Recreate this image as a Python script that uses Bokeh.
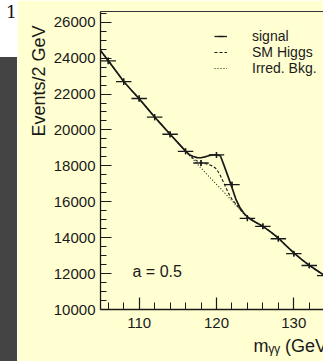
import numpy as np
from bokeh.plotting import figure
from bokeh.models import (Range1d, LinearAxis, SingleIntervalTicker, FixedTicker,
                          Legend, LegendItem, Label, Div, ColumnDataSource, Title)
from bokeh.layouts import row
from bokeh.embed import file_html
from bokeh.resources import INLINE

# ---- data ----
sig_mass = [106, 108, 110, 112, 114, 116, 118, 120, 122, 124, 126, 128, 130, 132, 134]
sig_events = [23850, 22690, 21750, 20710, 19760, 18810, 18160, 18610, 16950, 15080,
              14630, 13940, 13110, 12450, 11890]
sig_err = [190, 185, 180, 175, 170, 165, 165, 165, 160, 150, 150, 145, 140, 135, 135]
bin_half_width = 1.0  # 2 GeV bins

curve_mass = [105, 106, 107, 108, 109, 110, 111, 112, 113, 114, 115, 116,
              116.5, 117, 117.5, 118, 118.5, 119, 119.5, 120, 120.5, 121, 121.5,
              122, 122.5, 123, 123.5,
              124, 125, 126, 127, 128, 129, 130, 131, 132, 133, 134]
curve_irred = [24420, 23860, 23280, 22700, 22210, 21740, 21230, 20720, 20240, 19760, 19290, 18820,
               18580, 18350, 18110, 17880, 17650, 17420, 17200, 16970, 16750, 16520, 16290,
               16050, 15820, 15580, 15350,
               15120, 14870, 14630, 14320, 13980, 13560, 13150, 12790, 12460, 12170, 11880]
curve_higgs = [24420, 23860, 23280, 22700, 22210, 21740, 21230, 20720, 20240, 19760, 19290, 18820,
               18600, 18400, 18270, 18180, 18130, 18070, 17990, 17830, 17460, 17000, 16520,
               16150, 15880, 15600, 15360,
               15120, 14870, 14630, 14320, 13980, 13560, 13150, 12790, 12460, 12170, 11880]
curve_signal = [24420, 23860, 23280, 22700, 22210, 21740, 21230, 20720, 20240, 19760, 19290, 18820,
                18620, 18520, 18460, 18450, 18500, 18560, 18610, 18610, 18560, 18000, 17400,
                16800, 16150, 15700, 15390,
                15150, 14870, 14630, 14320, 13980, 13560, 13150, 12790, 12460, 12170, 11880]

x_tick_interval = 10
y_tick_interval = 2000

BG = "#FFFFD2"
INK = "#1a1a1a"
FONT = "Liberation Sans"

p = figure(width=306, height=361,
           x_range=Range1d(105, 133.84), y_range=Range1d(10000, 26596),
           x_axis_type=None, y_axis_type=None,
           output_backend="svg", toolbar_location=None)
p.background_fill_color = BG
p.border_fill_color = BG
p.outline_line_color = None
p.min_border_left = 83
p.min_border_right = 0
p.min_border_top = 11
p.min_border_bottom = 52

def style_axis(ax, tin, mtin):
    ax.axis_line_color = INK
    ax.axis_line_width = 1.3
    ax.major_tick_line_color = INK
    ax.minor_tick_line_color = INK
    ax.major_tick_line_width = 1.2
    ax.minor_tick_line_width = 1.0
    ax.major_tick_in = tin
    ax.major_tick_out = 0
    ax.minor_tick_in = mtin
    ax.minor_tick_out = 0
    ax.major_label_text_font = FONT
    ax.major_label_text_font_size = "15px"
    ax.major_label_text_color = INK

xaxis = LinearAxis(ticker=SingleIntervalTicker(interval=x_tick_interval, num_minor_ticks=5))
style_axis(xaxis, 12, 7)
xaxis.major_label_standoff = 8
p.add_layout(xaxis, "below")

yaxis = LinearAxis(ticker=SingleIntervalTicker(interval=y_tick_interval, num_minor_ticks=4))
style_axis(yaxis, 11, 6)
yaxis.major_label_standoff = 5
p.add_layout(yaxis, "left")

top = LinearAxis(ticker=FixedTicker(ticks=[]))
style_axis(top, 0, 0)
top.axis_line_width = 1.0
top.axis_line_color = "#333333"
top.major_label_text_font_size = "0px"
p.add_layout(top, "above")

m = np.array(sig_mass, dtype=float)
ev = np.array(sig_events, dtype=float)
er = np.array(sig_err, dtype=float)
src = ColumnDataSource(dict(x=m, y=ev, x0=m - bin_half_width, x1=m + bin_half_width,
                            y0=ev - er, y1=ev + er))

r_irred = p.line(curve_mass, curve_irred, line_color=INK, line_width=1.1, line_dash="1 2")
r_higgs = p.line(curve_mass, curve_higgs, line_color=INK, line_width=1.1, line_dash="3 2")
r_sig = p.line(curve_mass, curve_signal, line_color=INK, line_width=1.7)

r_h = p.segment(x0="x0", x1="x1", y0="y", y1="y", source=src, line_color=INK, line_width=1.3)
r_v = p.segment(x0="x", x1="x", y0="y0", y1="y1", source=src, line_color=INK, line_width=1.3)
r_tick = p.scatter(x="x", y="y", source=src, marker="dash", angle=np.pi / 2, size=6,
                   line_color=INK, line_width=1.3)

legend = Legend(items=[LegendItem(label="signal", renderers=[r_h, r_tick]),
                       LegendItem(label="SM Higgs", renderers=[r_higgs]),
                       LegendItem(label="Irred. Bkg.", renderers=[r_irred])],
                location=(114, 233), padding=0, margin=0, spacing=0,
                glyph_width=13, glyph_height=16, label_height=16, label_standoff=25,
                border_line_color=None, background_fill_alpha=0,
                label_text_font=FONT, label_text_font_size="14px",
                label_text_color=INK)
p.add_layout(legend)

p.add_layout(Label(x=32, y=30, x_units="screen", y_units="screen", text="a = 0.5",
                   text_font=FONT, text_font_size="16px", text_color=INK))

ytitle = Title(text="Events/2 GeV", align="right", offset=14, standoff=3,
               text_font=FONT, text_font_size="18px", text_font_style="normal",
               text_color=INK)
p.add_layout(ytitle, "left")

xtitle = Title(text="mᵧᵧ (GeV)", align="left", offset=153, standoff=7,
               text_font=FONT, text_font_size="18px", text_font_style="normal",
               text_color=INK)
p.add_layout(xtitle, "below")

div = Div(text=(
    '<div style="position:relative;width:17px;height:361px;background:#444444;overflow:hidden;">'
    '<div style="position:absolute;left:0;top:0;width:17px;height:57px;background:#ffffff;"></div>'
    '<div style="position:absolute;left:6px;top:3px;font-family:\'DejaVu Serif\';'
    'font-size:17px;line-height:18px;color:#111;">1</div>'
    '</div>'), width=17, height=361, margin=(0, 0, 0, 0))

layout = row(div, p, spacing=0)
open("out.html", "w").write(file_html(layout, INLINE))
